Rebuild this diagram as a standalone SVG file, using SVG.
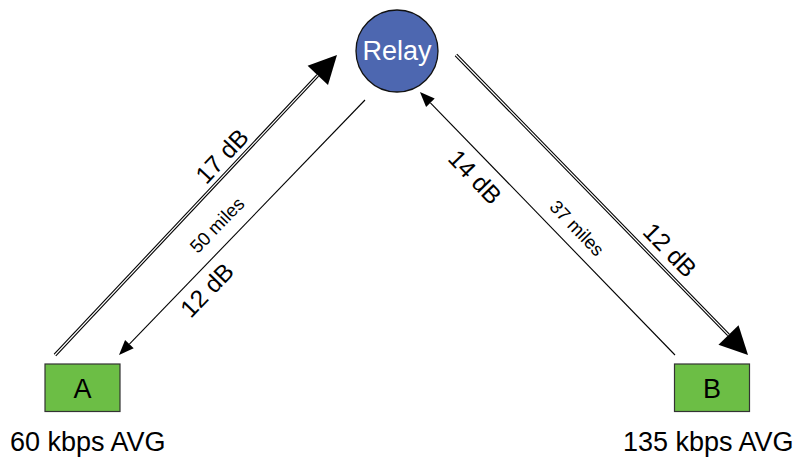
<svg xmlns="http://www.w3.org/2000/svg" width="795" height="457" viewBox="0 0 795 457">
<style>
text{font-family:"Liberation Sans",Arial,sans-serif;fill:#000}
.lbl{font-size:24.5px}
.mi{font-size:18.5px}
.big{font-size:27px}
.dbl{stroke:#000;stroke-width:3.4;fill:none}
.dbl-in{stroke:#fff;stroke-width:1.2;fill:none}
.sgl{stroke:#000;stroke-width:1.1;fill:none}
.box{fill:#6CBE45;stroke:#333;stroke-width:1.2}
</style>
<defs>
<marker id="bigArrow" markerUnits="userSpaceOnUse" markerWidth="30" markerHeight="30" viewBox="0 -15 30 30" refX="0" refY="0" orient="auto" overflow="visible"><path d="M0,-14L28,0L0,14z" fill="#000"/></marker>
<marker id="smallArrow" markerUnits="userSpaceOnUse" markerWidth="16" markerHeight="14" viewBox="0 -7 16 14" refX="0" refY="0" orient="auto" overflow="visible"><path d="M0,-6L15,0L0,6z" fill="#000"/></marker>
</defs>
<g id="connectors">
<line class="dbl" x1="55" y1="355" x2="317.8" y2="75.4" marker-end="url(#bigArrow)"/>
<line class="dbl-in" x1="55" y1="355" x2="317.8" y2="75.4"/>
<line class="sgl" x1="365" y1="100" x2="129.4" y2="344.2" marker-end="url(#smallArrow)"/>
<line class="dbl" x1="456" y1="55" x2="728.5" y2="334.9" marker-end="url(#bigArrow)"/>
<line class="dbl-in" x1="456" y1="55" x2="728.5" y2="334.9"/>
<line class="sgl" x1="675" y1="355" x2="430.4" y2="102.8" marker-end="url(#smallArrow)"/>
<text class="lbl" text-anchor="middle" transform="translate(222,156) rotate(-46.8) translate(0,8.5)">17 dB</text>
<text class="mi" text-anchor="middle" transform="translate(217,225) rotate(-46) translate(0,6.5)">50 miles</text>
<text class="lbl" text-anchor="middle" transform="translate(207,290) rotate(-46) translate(0,8.5)">12 dB</text>
<text class="lbl" text-anchor="middle" transform="translate(475,177) rotate(46) translate(0,8.5)">14 dB</text>
<text class="mi" text-anchor="middle" transform="translate(577,228) rotate(46) translate(0,6.5)">37 miles</text>
<text class="lbl" text-anchor="middle" transform="translate(670,250) rotate(45.9) translate(0,8.5)">12 dB</text>
</g>
<g id="relay">
<circle cx="397" cy="51" r="41" fill="#4D67B0" stroke="#111" stroke-width="1.3"/>
<text class="big" x="397" y="60" text-anchor="middle" style="fill:#fff">Relay</text>
</g>
<g id="nodeA">
<rect class="box" x="45" y="364" width="75" height="47.5"/>
<text class="big" x="82.5" y="398" text-anchor="middle">A</text>
<text class="big" x="10" y="451">60 kbps AVG</text>
</g>
<g id="nodeB">
<rect class="box" x="674.5" y="364" width="75" height="47.5"/>
<text class="big" x="712" y="398" text-anchor="middle">B</text>
<text class="big" x="623" y="451">135 kbps AVG</text>
</g>
</svg>
